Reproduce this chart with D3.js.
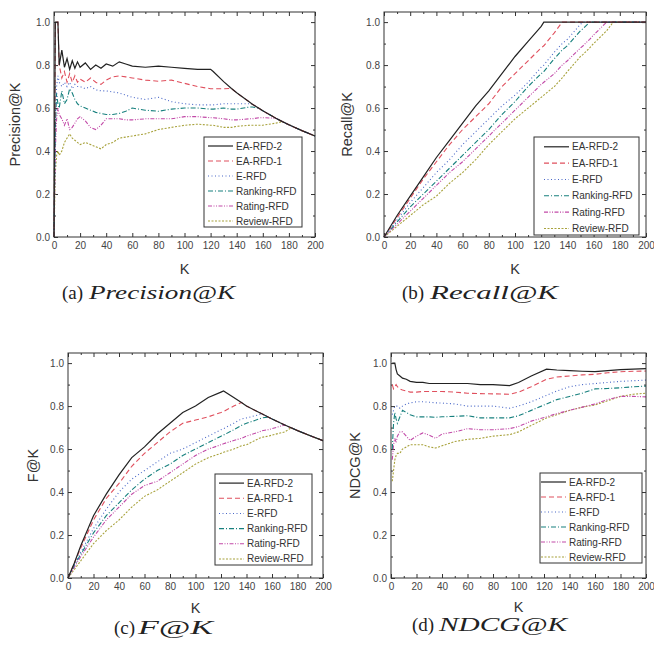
<!DOCTYPE html>
<html>
<head>
<meta charset="utf-8">
<script src="https://cdn.jsdelivr.net/npm/d3@7"></script>
<style>
body { margin: 0; background: #fff; }
.tick text { font-family: "Liberation Sans", Arial, sans-serif; font-size: 10px; fill: #444; }
.tick line { stroke: #333; }
.ax_title { font-family: "Liberation Sans", Arial, sans-serif; font-size: 14.5px; fill: #333; }
.leg_text { font-family: "Liberation Sans", Arial, sans-serif; font-size: 10px; fill: #333; }
.caption { font-family: "Liberation Serif", "DejaVu Serif", serif; font-size: 19px; fill: #222; }
</style>
</head>
<body>
<div id="viz"></div>
<script>
let series_names = ["EA-RFD-2", "EA-RFD-1", "E-RFD", "Ranking-RFD", "Rating-RFD", "Review-RFD"];
let series_colors = ["#222222", "#e0505e", "#4a68c8", "#17807e", "#c24aa8", "#a8a23c"];
let series_dash = [null, "5,3", "1,2.5", "5,2,1,2", "4,1.5,1,1.5,1,1.5", "2,1.5"];
let series_width = [1.2, 1.1, 1.1, 1.1, 1.1, 1.1];

// (a) Precision@K
let k_prec = [0,1,2,3,4,6,8,10,12,14,16,18,20,24,28,32,36,40,45,50,55,60,70,80,90,100,110,120,122,130,136,140,150,152,157,160,170,175,180,190,200];
let prec_ea2 = [0,1,1,1,0.8, 0.87,0.79,0.83,0.78,0.82,0.785,0.815,0.79, 0.81,0.78,0.8,0.785,0.805, 0.795,0.815,0.805,0.795, 0.79,0.795,0.79,0.785,0.78,0.78, 0.77,0.723,0.691,0.671, 0.627,0.618,0.599,0.587, 0.553,0.537,0.522,0.495,0.47];
let prec_ea1 = [0,1,1,1,0.8, 0.74,0.77,0.72,0.76,0.72,0.75,0.72,0.735, 0.72,0.74,0.72,0.71,0.73, 0.745,0.75,0.745,0.74, 0.73,0.725,0.73,0.715,0.7,0.69, 0.69,0.69,0.691,0.671, 0.627,0.618,0.599,0.587, 0.553,0.537,0.522,0.495,0.47];
let prec_erfd = [0,0.55,0.7,0.75,0.72, 0.7,0.72,0.7,0.72,0.69,0.71,0.7,0.7, 0.69,0.7,0.685,0.68,0.68, 0.675,0.67,0.66,0.65, 0.64,0.65,0.63,0.62,0.615,0.615, 0.615,0.62,0.62,0.62, 0.62,0.618,0.599,0.587, 0.553,0.537,0.522,0.495,0.47];
let prec_rank = [0,0.5,0.67,0.62,0.6, 0.68,0.62,0.64,0.69,0.67,0.64,0.62,0.61, 0.6,0.59,0.58,0.575,0.57, 0.57,0.575,0.585,0.6, 0.59,0.585,0.595,0.6,0.6,0.595, 0.595,0.6,0.595,0.595, 0.605,0.605,0.599,0.587, 0.553,0.537,0.522,0.495,0.47];
let prec_rate = [0,0.4,0.55,0.6,0.57, 0.55,0.52,0.55,0.5,0.51,0.53,0.55,0.56, 0.54,0.51,0.5,0.52,0.55, 0.55,0.55,0.545,0.545, 0.55,0.55,0.55,0.56,0.56,0.555, 0.555,0.55,0.545,0.545, 0.55,0.55,0.555,0.555, 0.553,0.537,0.522,0.495,0.47];
let prec_rev = [0,0.3,0.38,0.4,0.38, 0.4,0.44,0.46,0.48,0.46,0.45,0.44,0.43, 0.44,0.43,0.42,0.41,0.43, 0.44,0.46,0.465,0.47, 0.48,0.5,0.51,0.52,0.525,0.52, 0.52,0.51,0.51,0.515, 0.52,0.52,0.52,0.52, 0.53,0.537,0.522,0.495,0.47];

// (b) Recall@K
let k_rec = [0,10,20,30,40,50,60,70,80,90,100,110,120,122,130,136,140,150,152,157,160,170,175,180,190,200];
let rec_ea2 = [0,0.1,0.19,0.28,0.37,0.45,0.53,0.61,0.68,0.76,0.84,0.91,0.98,1,1,1,1,1,1,1,1,1,1,1,1,1];
let rec_ea1 = [0,0.09,0.18,0.27,0.35,0.43,0.5,0.56,0.62,0.7,0.76,0.82,0.88,0.89,0.95,1,1,1,1,1,1,1,1,1,1,1];
let rec_erfd = [0,0.08,0.16,0.23,0.3,0.36,0.43,0.49,0.55,0.61,0.66,0.72,0.79,0.8,0.86,0.9,0.92,0.99,1,1,1,1,1,1,1,1];
let rec_rank = [0,0.07,0.14,0.2,0.26,0.32,0.38,0.44,0.5,0.57,0.63,0.7,0.76,0.77,0.83,0.87,0.89,0.96,0.97,1,1,1,1,1,1,1];
let rec_rate = [0,0.06,0.12,0.18,0.24,0.3,0.35,0.41,0.47,0.53,0.59,0.65,0.71,0.72,0.76,0.8,0.82,0.88,0.89,0.92,0.94,1,1,1,1,1];
let rec_rev = [0,0.05,0.1,0.15,0.19,0.25,0.3,0.36,0.43,0.49,0.55,0.6,0.65,0.66,0.7,0.74,0.77,0.84,0.85,0.88,0.9,0.96,1,1,1,1];

// (c) F@K
let k_f = [0,5,10,20,30,40,50,60,70,80,90,100,110,120,122,130,136,140,150,152,157,160,170,175,180,190,200];
let f_ea2 = [0,0.07,0.15,0.29,0.39,0.48,0.56,0.61,0.67,0.72,0.77,0.8,0.84,0.865,0.87, 0.84,0.817,0.8,0.77,0.764,0.749,0.74,0.712,0.699,0.686,0.662,0.639];
let f_ea1 = [0,0.07,0.14,0.27,0.37,0.44,0.52,0.58,0.63,0.68,0.72,0.735,0.75,0.77,0.775, 0.8,0.817,0.8,0.77,0.764,0.749,0.74,0.712,0.699,0.686,0.662,0.639];
let f_erfd = [0,0.06,0.12,0.23,0.32,0.4,0.46,0.5,0.54,0.58,0.6,0.63,0.66,0.69,0.695, 0.72,0.74,0.745,0.76,0.764,0.749,0.74,0.712,0.699,0.686,0.662,0.639];
let f_rank = [0,0.06,0.11,0.21,0.29,0.35,0.41,0.46,0.5,0.53,0.57,0.6,0.63,0.66,0.665, 0.69,0.71,0.72,0.74,0.745,0.749,0.74,0.712,0.699,0.686,0.662,0.639];
let f_rate = [0,0.05,0.1,0.19,0.27,0.33,0.39,0.43,0.45,0.49,0.53,0.57,0.6,0.62,0.625, 0.64,0.65,0.66,0.68,0.685,0.69,0.695,0.712,0.699,0.686,0.662,0.639];
let f_rev = [0,0.04,0.08,0.16,0.22,0.27,0.33,0.38,0.41,0.45,0.49,0.53,0.56,0.58,0.585, 0.6,0.615,0.62,0.65,0.655,0.66,0.665,0.68,0.699,0.686,0.662,0.639];

// (d) NDCG@K
let k_ndcg = [1,2,3,4,5,7,9,12,15,20,25,30,35,40,50,60,70,80,93,100,110,122,130,140,150,160,170,180,190,200];
let ndcg_ea2 = [1,1,1,0.97,0.95,0.94,0.93,0.925,0.915,0.91, 0.91,0.905,0.905,0.905,0.905,0.905,0.9,0.9,0.895,0.91, 0.94,0.972,0.968,0.965,0.962,0.96,0.965,0.97,0.972,0.974];
let ndcg_ea1 = [0.9,0.88,0.89,0.9,0.89,0.88,0.875,0.87,0.865,0.865, 0.868,0.868,0.868,0.868,0.865,0.86,0.858,0.857,0.855,0.865, 0.89,0.925,0.935,0.94,0.945,0.948,0.955,0.96,0.962,0.963];
let ndcg_erfd = [0.76,0.78,0.8,0.8,0.8,0.79,0.8,0.81,0.815,0.82, 0.82,0.818,0.815,0.814,0.81,0.8,0.8,0.8,0.79,0.8, 0.82,0.85,0.87,0.89,0.9,0.905,0.91,0.915,0.918,0.921];
let ndcg_rank = [0.6,0.72,0.77,0.74,0.72,0.75,0.78,0.77,0.76,0.75, 0.75,0.75,0.748,0.75,0.752,0.755,0.745,0.745,0.745,0.755, 0.78,0.81,0.83,0.845,0.86,0.88,0.882,0.885,0.89,0.893];
let ndcg_rate = [0.55,0.62,0.65,0.63,0.66,0.68,0.68,0.66,0.64,0.66, 0.675,0.665,0.65,0.67,0.68,0.695,0.69,0.69,0.695,0.705, 0.73,0.75,0.765,0.78,0.795,0.81,0.83,0.845,0.845,0.843];
let ndcg_rev = [0.45,0.5,0.55,0.57,0.58,0.58,0.6,0.61,0.62,0.62, 0.62,0.61,0.605,0.615,0.635,0.645,0.65,0.66,0.667,0.68, 0.71,0.745,0.76,0.78,0.795,0.805,0.825,0.845,0.855,0.86];

let x_ticks = [0,20,40,60,80,100,120,140,160,180,200];
let y_ticks = [0,0.2,0.4,0.6,0.8,1.0];

let panels = [
    {k: k_prec, vals: [prec_ea2, prec_ea1, prec_erfd, prec_rank, prec_rate, prec_rev],
     ylabel: "Precision@K", tag: "(a)", metric: "Precision@K",
     x0: 54, x1: 315, y0: 12, y1: 237, ylab_x: 15, kx_y: 274,
     leg: [204, 137, 98, 90, 32], cap: [62, 89, 146, 299]},
    {k: k_rec, vals: [rec_ea2, rec_ea1, rec_erfd, rec_rank, rec_rate, rec_rev],
     ylabel: "Recall@K", tag: "(b)", metric: "Recall@K",
     x0: 384, x1: 646, y0: 12, y1: 237, ylab_x: 347, kx_y: 274,
     leg: [534, 137, 105, 98, 38], cap: [402, 430, 128, 299]},
    {k: k_f, vals: [f_ea2, f_ea1, f_erfd, f_rank, f_rate, f_rev],
     ylabel: "F@K", tag: "(c)", metric: "F@K",
     x0: 68, x1: 323, y0: 353, y1: 578, ylab_x: 33, kx_y: 613,
     leg: [215, 474, 97, 91, 32], cap: [114, 138, 75, 634]},
    {k: k_ndcg, vals: [ndcg_ea2, ndcg_ea1, ndcg_erfd, ndcg_rank, ndcg_rate, ndcg_rev],
     ylabel: "NDCG@K", tag: "(d)", metric: "NDCG@K",
     x0: 391, x1: 646, y0: 353, y1: 578, ylab_x: 355, kx_y: 612,
     leg: [540, 473, 102, 90, 29], cap: [412, 439, 128, 631]}
];

let svg_container = d3.select("#viz")
    .append("svg")
    .attr("width", 654)
    .attr("height", 657);

function draw_panel(p){
    let x = d3.scaleLinear().domain([0, 200]).range([p.x0, p.x1]);
    let y = d3.scaleLinear().domain([0, 1.047]).range([p.y1, p.y0]);
    let g = svg_container.append("g");

    let minor_x = d3.range(10, 200, 20);
    let minor_y = [0.1, 0.3, 0.5, 0.7, 0.9];

    // inward ticks on all four sides
    g.append("g").attr("transform", "translate(0," + p.y1 + ")")
        .call(d3.axisBottom(x).tickValues(x_ticks).tickSize(-4).tickPadding(5).tickFormat(d3.format("d")));
    g.append("g").attr("transform", "translate(0," + p.y1 + ")")
        .call(d3.axisBottom(x).tickValues(minor_x).tickSize(-2).tickFormat(""));
    g.append("g").attr("transform", "translate(0," + p.y0 + ")")
        .call(d3.axisTop(x).tickValues(x_ticks).tickSize(-4).tickFormat(""));
    g.append("g").attr("transform", "translate(0," + p.y0 + ")")
        .call(d3.axisTop(x).tickValues(minor_x).tickSize(-2).tickFormat(""));
    g.append("g").attr("transform", "translate(" + p.x0 + ",0)")
        .call(d3.axisLeft(y).tickValues(y_ticks).tickSize(-4).tickPadding(4).tickFormat(d3.format(".1f")));
    g.append("g").attr("transform", "translate(" + p.x0 + ",0)")
        .call(d3.axisLeft(y).tickValues(minor_y).tickSize(-2).tickFormat(""));
    g.append("g").attr("transform", "translate(" + p.x1 + ",0)")
        .call(d3.axisRight(y).tickValues(y_ticks).tickSize(-4).tickFormat(""));
    g.append("g").attr("transform", "translate(" + p.x1 + ",0)")
        .call(d3.axisRight(y).tickValues(minor_y).tickSize(-2).tickFormat(""));
    g.selectAll(".domain").remove();

    let line = d3.line()
        .x(function(d){ return x(d.k); })
        .y(function(d){ return y(d.v); });

    // draw last series first so EA-RFD-2 ends on top
    for (let i = p.vals.length - 1; i >= 0; i--) {
        let pts = p.k.map(function(k, j){ return {k: k, v: p.vals[i][j]}; });
        g.append("path")
            .datum(pts)
            .attr("d", line)
            .attr("fill", "none")
            .attr("stroke", series_colors[i])
            .attr("stroke-width", series_width[i])
            .attr("stroke-dasharray", series_dash[i]);
    }

    g.append("rect")
        .attr("x", p.x0).attr("y", p.y0)
        .attr("width", p.x1 - p.x0).attr("height", p.y1 - p.y0)
        .attr("fill", "none").attr("stroke", "#333").attr("stroke-width", 1);

    // legend
    let lx = p.leg[0], ly = p.leg[1], lw = p.leg[2], lh = p.leg[3], tx = lx + p.leg[4];
    g.append("rect")
        .attr("x", lx).attr("y", ly).attr("width", lw).attr("height", lh)
        .attr("fill", "#fff").attr("stroke", "#333").attr("stroke-width", 1);
    series_names.forEach(function(name, i){
        let ry = ly + (i + 0.6) * lh / 6;
        g.append("line")
            .attr("x1", tx - 28).attr("x2", tx - 3)
            .attr("y1", ry).attr("y2", ry)
            .attr("stroke", series_colors[i])
            .attr("stroke-width", series_width[i])
            .attr("stroke-dasharray", series_dash[i]);
        g.append("text")
            .attr("class", "leg_text")
            .attr("x", tx).attr("y", ry + 3.5)
            .text(name);
    });

    // axis titles
    g.append("text").attr("class", "ax_title")
        .attr("x", (p.x0 + p.x1) / 2).attr("y", p.kx_y)
        .attr("text-anchor", "middle").text("K");
    g.append("text").attr("class", "ax_title")
        .attr("transform", "translate(" + (p.ylab_x + 5) + "," + (p.y0 + p.y1) / 2 + ") rotate(-90)")
        .attr("text-anchor", "middle").text(p.ylabel);

    // caption: "(a)" upright, metric in wide math italic
    g.append("text").attr("class", "caption")
        .attr("x", p.cap[0]).attr("y", p.cap[3])
        .text(p.tag);
    g.append("text").attr("class", "caption")
        .attr("x", p.cap[1]).attr("y", p.cap[3])
        .attr("font-style", "italic")
        .attr("textLength", p.cap[2])
        .attr("lengthAdjust", "spacingAndGlyphs")
        .text(p.metric);
}

panels.forEach(draw_panel);
</script>
</body>
</html>
